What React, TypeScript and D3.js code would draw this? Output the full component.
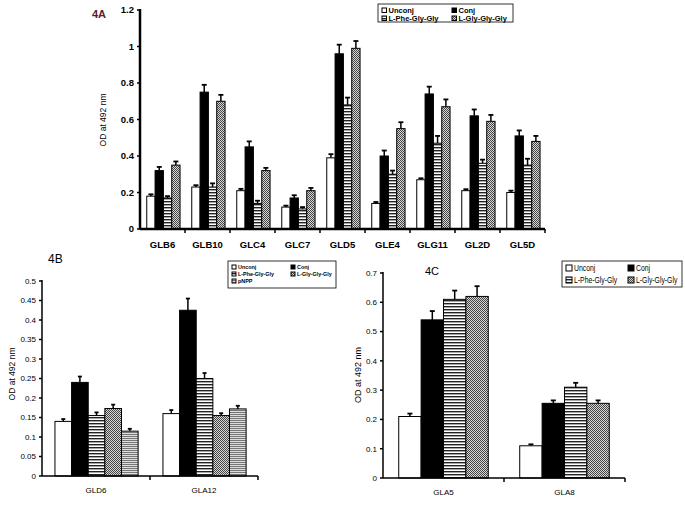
import React from 'react';
import * as d3 from 'd3';

const seriesA = ['Unconj', 'Conj', 'L-Phe-Gly-Gly', 'L-Gly-Gly-Gly'];
const catsA = ['GLB6', 'GLB10', 'GLC4', 'GLC7', 'GLD5', 'GLE4', 'GLG11', 'GL2D', 'GL5D'];
const unconjA = [0.18, 0.23, 0.21, 0.12, 0.39, 0.14, 0.27, 0.21, 0.2];
const conjA = [0.32, 0.75, 0.45, 0.17, 0.96, 0.4, 0.74, 0.62, 0.51];
const pheA = [0.17, 0.23, 0.14, 0.11, 0.68, 0.3, 0.47, 0.36, 0.35];
const glyA = [0.35, 0.7, 0.32, 0.21, 0.99, 0.55, 0.67, 0.59, 0.48];
const unconjAErr = [0.01, 0.01, 0.01, 0.008, 0.02, 0.008, 0.008, 0.008, 0.01];
const conjAErr = [0.02, 0.04, 0.03, 0.015, 0.05, 0.03, 0.04, 0.035, 0.03];
const pheAErr = [0.01, 0.02, 0.015, 0.01, 0.04, 0.02, 0.04, 0.02, 0.035];
const glyAErr = [0.02, 0.035, 0.015, 0.015, 0.04, 0.035, 0.04, 0.035, 0.03];
const ticksA = [0, 0.2, 0.4, 0.6, 0.8, 1, 1.2];

const seriesB = ['Unconj', 'Conj', 'L-Phe-Gly-Gly', 'L-Gly-Gly-Gly', 'pNPP'];
const catsB = ['GLD6', 'GLA12'];
const unconjB = [0.14, 0.16];
const conjB = [0.24, 0.425];
const pheB = [0.155, 0.25];
const glyB = [0.173, 0.155];
const pnppB = [0.115, 0.172];
const unconjBErr = [0.006, 0.009];
const conjBErr = [0.015, 0.03];
const pheBErr = [0.008, 0.014];
const glyBErr = [0.01, 0.006];
const pnppBErr = [0.006, 0.008];
const ticksB = [0, 0.05, 0.1, 0.15, 0.2, 0.25, 0.3, 0.35, 0.4, 0.45, 0.5];

const seriesC = ['Unconj', 'Conj', 'L-Phe-Gly-Gly', 'L-Gly-Gly-Gly'];
const catsC = ['GLA5', 'GLA8'];
const unconjC = [0.21, 0.11];
const conjC = [0.54, 0.255];
const pheC = [0.61, 0.31];
const glyC = [0.62, 0.255];
const unconjCErr = [0.01, 0.005];
const conjCErr = [0.03, 0.01];
const pheCErr = [0.03, 0.015];
const glyCErr = [0.035, 0.01];
const ticksC = [0, 0.1, 0.2, 0.3, 0.4, 0.5, 0.6, 0.7];

const fillFor: Record<string, string> = {
  'Unconj': '#ffffff',
  'Conj': '#000000',
  'L-Phe-Gly-Gly': 'url(#hlines)',
  'L-Gly-Gly-Gly': 'url(#checker)',
  'pNPP': 'url(#graylines)',
};

type PanelProps = {
  cats: string[];
  series: string[];
  values: number[][];
  errs: number[][];
  ticks: number[];
  x0: number; x1: number; y0: number; y1: number; ymax: number;
  inner: [number, number];
  axisW: number; tickFont: number; bold: boolean; labelY: number; capW: number;
  fontFamily: string;
};

function Panel(p: PanelProps) {
  const xb = d3.scaleBand<string>().domain(p.cats).range([p.x0, p.x1]).padding(0);
  const bw = xb.bandwidth();
  const xs = d3.scaleBand<string>().domain(p.series).range([bw * p.inner[0], bw * p.inner[1]]).padding(0);
  const y = d3.scaleLinear().domain([0, p.ymax]).range([p.y0, p.y1]);
  const fmt = (v: number) => String(+v.toFixed(2));
  const fw = p.bold ? 'bold' : 'normal';
  return (
    <g fontFamily={p.fontFamily}>
      {p.cats.map((c, ci) => (
        <g key={c}>
          {p.series.map((s, si) => {
            const v = p.values[si][ci];
            const e = p.errs[si][ci];
            const bx = (xb(c) as number) + (xs(s) as number);
            const w = xs.bandwidth();
            const cx = bx + w / 2;
            return (
              <g key={s}>
                <line x1={cx} x2={cx} y1={y(v)} y2={y(v + e)} stroke="#000" strokeWidth={1.5} />
                <line x1={cx - p.capW / 2} x2={cx + p.capW / 2} y1={y(v + e)} y2={y(v + e)} stroke="#000" strokeWidth={1.8} />
                <rect x={bx} y={y(v)} width={w} height={p.y0 - y(v)} fill={fillFor[s]} stroke="#000" strokeWidth={1} />
              </g>
            );
          })}
          <text x={(xb(c) as number) + bw / 2} y={p.labelY} textAnchor="middle" fontSize={p.tickFont} fontWeight={fw}>{c}</text>
        </g>
      ))}
      <line x1={p.x0} x2={p.x0} y1={p.y0} y2={y(p.ymax) - 1} stroke="#000" strokeWidth={p.axisW} />
      <line x1={p.x0} x2={p.x1} y1={p.y0} y2={p.y0} stroke="#000" strokeWidth={p.axisW} />
      {p.ticks.map(t => (
        <g key={t}>
          <line x1={p.x0 - 3} x2={p.x0} y1={y(t)} y2={y(t)} stroke="#000" strokeWidth={1.5} />
          <text x={p.x0 - 6} y={y(t) + p.tickFont * 0.35} textAnchor="end" fontSize={p.tickFont} fontWeight={fw}>{fmt(t)}</text>
        </g>
      ))}
      {p.cats.map(c => (
        <line key={c} x1={(xb(c) as number) + bw} x2={(xb(c) as number) + bw} y1={p.y0} y2={p.y0 + 4} stroke="#000" strokeWidth={1.5} />
      ))}
    </g>
  );
}

function Legend({ x, y, w, h, items, cols, rowH, font, fontSize, bold, sw, colW, squeeze }: {
  x: number; y: number; w: number; h: number; items: string[]; cols: number; rowH: number;
  font: string; fontSize: number; bold: boolean; sw: number; colW: number; squeeze: number;
}) {
  return (
    <g fontFamily={font}>
      <rect x={x} y={y} width={w} height={h} fill="#fff" stroke="#000" strokeWidth={0.8} />
      {items.map((s, i) => {
        const r = Math.floor(i / cols);
        const c = i % cols;
        const ix = x + 4 + c * colW;
        const iy = y + 4 + r * rowH;
        return (
          <g key={s}>
            <rect x={ix} y={iy} width={sw} height={sw} fill={fillFor[s]} stroke="#000" strokeWidth={1} />
            <text transform={`translate(${ix + sw + 2},${iy + sw}) scale(${squeeze},1)`} fontSize={fontSize} fontWeight={bold ? 'bold' : 'normal'}>{s}</text>
          </g>
        );
      })}
    </g>
  );
}

export default function App() {
  const sans = 'Liberation Sans, Arial, sans-serif';
  return (
    <svg width={685} height={513} style={{ position: 'absolute', left: 0, top: 0, background: '#fff' }}>
      <defs>
        <pattern id="hlines" width={4} height={3} patternUnits="userSpaceOnUse">
          <rect width={4} height={3} fill="#fff" />
          <rect y={0} width={4} height={1.4} fill="#222" />
        </pattern>
        <pattern id="checker" width={2} height={2} patternUnits="userSpaceOnUse">
          <rect width={2} height={2} fill="#d8d8d8" />
          <rect x={0} y={0} width={1} height={1} fill="#444" />
          <rect x={1} y={1} width={1} height={1} fill="#444" />
        </pattern>
        <pattern id="graylines" width={4} height={2} patternUnits="userSpaceOnUse">
          <rect width={4} height={2} fill="#ddd" />
          <rect y={0} width={4} height={1} fill="#777" />
        </pattern>
      </defs>
      <rect width={685} height={513} fill="#fff" />

      {/* Panel 4A */}
      <text x={92} y={18} fontFamily={sans} fontSize={11} fontWeight="bold" fill="#5a1e1e">4A</text>
      <Panel cats={catsA} series={seriesA} values={[unconjA, conjA, pheA, glyA]} errs={[unconjAErr, conjAErr, pheAErr, glyAErr]}
        ticks={ticksA} x0={140} x1={545} y0={229} y1={10} ymax={1.2} inner={[0.15, 0.89]} axisW={2.5} tickFont={9.5}
        bold={true} labelY={248} capW={5} fontFamily={sans} />
      <text transform="translate(106,120) rotate(-90)" textAnchor="middle" fontFamily={sans} fontSize={8.5}>OD at 492 nm</text>
      <Legend x={378} y={4} w={135} h={18} items={seriesA} cols={2} rowH={8} font={sans} fontSize={7.5} bold={true} sw={4.5} colW={70} squeeze={1} />

      {/* Panel 4B */}
      <text x={48} y={263} fontFamily={sans} fontSize={12}>4B</text>
      <Panel cats={catsB} series={seriesB} values={[unconjB, conjB, pheB, glyB, pnppB]} errs={[unconjBErr, conjBErr, pheBErr, glyBErr, pnppBErr]}
        ticks={ticksB} x0={42} x1={258} y0={476} y1={281} ymax={0.5} inner={[0.12, 0.89]} axisW={1.5} tickFont={8}
        bold={false} labelY={493} capW={4} fontFamily={sans} />
      <text transform="translate(15,374) rotate(-90)" textAnchor="middle" fontFamily={sans} fontSize={8.5}>OD at 492 nm</text>
      <Legend x={228} y={261} w={108} h={27} items={seriesB} cols={2} rowH={7} font={sans} fontSize={6} bold={true} sw={4} colW={59} squeeze={0.9} />

      {/* Panel 4C */}
      <text x={425} y={275} fontFamily={sans} fontSize={11}>4C</text>
      <Panel cats={catsC} series={seriesC} values={[unconjC, conjC, pheC, glyC]} errs={[unconjCErr, conjCErr, pheCErr, glyCErr]}
        ticks={ticksC} x0={383} x1={625} y0={478} y1={273} ymax={0.7} inner={[0.13, 0.87]} axisW={1.5} tickFont={8}
        bold={false} labelY={495} capW={5} fontFamily={sans} />
      <text transform="translate(361,375) rotate(-90)" textAnchor="middle" fontFamily={sans} fontSize={9}>OD at 492 nm</text>
      <Legend x={562} y={261} w={120} h={26} items={seriesC} cols={2} rowH={12} font={sans} fontSize={9.5} bold={false} sw={6} colW={62} squeeze={0.72} />
    </svg>
  );
}
